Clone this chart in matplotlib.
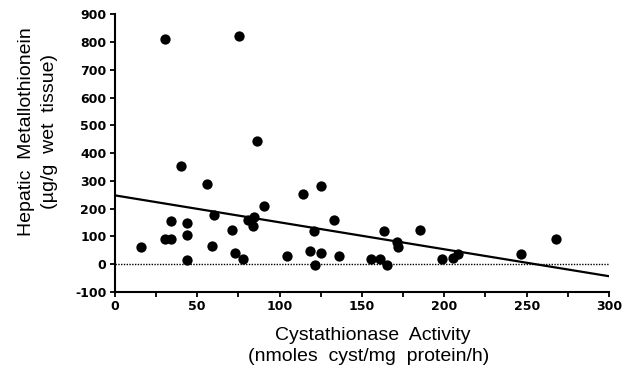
import matplotlib
matplotlib.use('Agg')
import matplotlib.pyplot as plt

# cystathionase activity (x) vs hepatic metallothionein (y)
activity = [15.7, 30.2, 30.2, 34.2, 34.4, 40.2, 43.6, 43.6, 43.6, 55.9,
            59.0, 60.3, 71.4, 73.0, 75.6, 77.9, 81.0, 84.5, 83.9, 86.5,
            90.5, 104.6, 114.5, 118.3, 120.7, 121.7, 125.3, 124.9, 132.8, 135.8,
            155.3, 160.9, 165.5, 163.7, 171.2, 172.0, 185.1, 198.5, 205.2, 208.6,
            246.8, 268.0]
metallothionein = [61, 809, 92, 92, 154, 352, 149, 104, 14, 290,
                   66, 176, 122, 41, 822, 20, 161, 170, 137, 442,
                   210, 30, 254, 48, 120, -4, 282, 41, 161, 30,
                   20, 20, -2, 119, 80, 62, 125, 20, 24, 38,
                   38, 92]

# regression line as drawn
fit_intercept = 248
fit_slope = -0.97

x_ticks = [0, 50, 100, 150, 200, 250, 300]
y_ticks = [-100, 0, 100, 200, 300, 400, 500, 600, 700, 800, 900]

plt.rcParams['font.family'] = ['Liberation Sans', 'DejaVu Sans']

fig = plt.figure(figsize=(6.24, 3.73), dpi=100)
ax = fig.add_axes([0.184, 0.217, 0.792, 0.745])

ax.scatter(activity, metallothionein, s=55, color='black', zorder=3, linewidths=0)

xs = [0, 300]
ax.plot(xs, [fit_intercept + fit_slope * x for x in xs], color='black', linewidth=1.6)
ax.plot(xs, [0, 0], color='black', linewidth=1.0, linestyle=(0, (1, 1)))

ax.set_xlim(0, 300)
ax.set_ylim(-100, 900)

for side in ['top', 'right']:
    ax.spines[side].set_visible(False)
for side in ['left', 'bottom']:
    ax.spines[side].set_linewidth(1.5)

tick_font = dict(family='DejaVu Sans', fontweight='bold', fontsize=9)
ax.set_xticks(x_ticks)
ax.set_xticklabels([str(v) for v in x_ticks], **tick_font)
ax.set_xticks(range(25, 300, 50), minor=True)
ax.set_yticks(y_ticks)
ax.set_yticklabels([str(v) for v in y_ticks], **tick_font)
ax.tick_params(which='both', direction='out', length=3.5, width=1.3, pad=2.5)

fig.text(0.598, 0.10, 'Cystathionase  Activity', ha='center', va='center', fontsize=14)
fig.text(0.59, 0.043, '(nmoles  cyst/mg  protein/h)', ha='center', va='center', fontsize=14)
fig.text(0.043, 0.648, 'Hepatic  Metallothionein', ha='center', va='center',
         rotation=90, fontsize=14)
fig.text(0.08, 0.648, '(µg/g  wet  tissue)', ha='center', va='center',
         rotation=90, fontsize=14)

fig.savefig('out.png', dpi=100)
